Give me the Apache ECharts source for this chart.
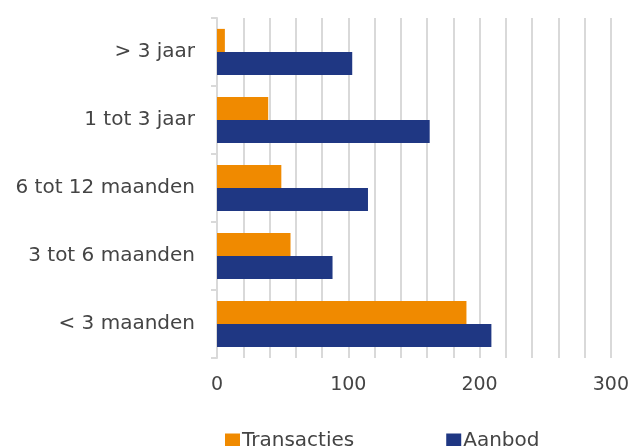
<!DOCTYPE html>
<html><head><meta charset="utf-8">
<script src="https://cdn.jsdelivr.net/npm/echarts@6/dist/echarts.min.js"></script>
<style>html,body{margin:0;padding:0;background:#fff}#c{width:632px;height:446px}</style>
</head><body><div id="c"></div>
<script>
const categories = ['< 3 maanden', '3 tot 6 maanden', '6 tot 12 maanden', '1 tot 3 jaar', '> 3 jaar'];
const transacties = [190, 56, 49, 39, 6];
const aanbod = [209, 88, 115, 162, 103];
const xTicks = [0, 100, 200, 300];

const chart = echarts.init(document.getElementById('c'));
const font = '"DejaVu Sans", sans-serif';
chart.setOption({
  animation: false,
  textStyle: { fontFamily: font },
  grid: { left: 217, right: 20, top: 18, bottom: 88 },
  legend: {
    bottom: -10, left: 220, itemGap: 92, itemWidth: 15, itemHeight: 15,
    icon: 'rect',
    textStyle: { fontSize: 20, color: '#444444', fontFamily: font, padding: [0,0,0,-3] },
    data: ['Transacties', 'Aanbod']
  },
  xAxis: {
    type: 'value', min: 0, max: 300, interval: 20,
    axisLine: { show: false }, axisTick: { show: false },
    splitLine: { lineStyle: { color: '#d9d9d9', width: 2 } },
    axisLabel: {
      fontSize: 19, color: '#444444', margin: 18, fontFamily: font,
      formatter: v => xTicks.includes(v) ? String(v) : ''
    }
  },
  yAxis: {
    type: 'category', data: categories,
    axisLine: { lineStyle: { color: '#d9d9d9', width: 2 } },
    axisTick: { show: true, length: 6, lineStyle: { color: '#d9d9d9', width: 2 } },
    axisLabel: { fontSize: 20, color: '#444444', margin: 22, fontFamily: font }
  },
  series: [
    { name: 'Transacties', type: 'bar', data: transacties, itemStyle: { color: '#F08A00' }, barGap: '0%', barCategoryGap: '32%' },
    { name: 'Aanbod', type: 'bar', data: aanbod, itemStyle: { color: '#1F3783' }, barGap: '0%', barCategoryGap: '32%' }
  ]
});
</script></body></html>
